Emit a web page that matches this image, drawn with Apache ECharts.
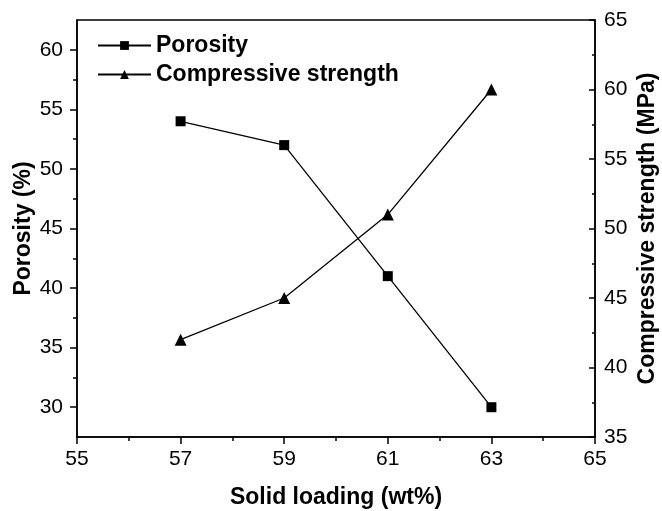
<!DOCTYPE html>
<html>
<head>
<meta charset="utf-8">
<script src="https://cdn.jsdelivr.net/npm/echarts@6/dist/echarts.min.js"></script>
<style>
  html, body { margin: 0; padding: 0; background: #fff; }
  #chart { width: 662px; height: 511px; }
</style>
</head>
<body>
<div id="chart"></div>
<script>
let solidLoading = [57, 59, 61, 63]
let porosity = [54, 52, 41, 30]
let strength = [42, 45, 51, 60]

let leftMajor = [30, 35, 40, 45, 50, 55, 60]
let leftMinor = [32.5, 37.5, 42.5, 47.5, 52.5, 57.5]

let font = 'Arial, "Liberation Sans", sans-serif'
let nameStyle = { fontFamily: font, fontWeight: 'bold', fontSize: 23, color: '#000' }
let labelStyle = { fontFamily: font, fontSize: 21, color: '#000' }
let blackLine = { color: '#000', width: 1.5 }

let chart = echarts.init(document.getElementById('chart'))

let baseY = {
    type: 'value',
    min: 27.5,
    max: 62.5,
    splitLine: { show: false }
}

chart.setOption({
    animation: false,
    backgroundColor: '#fff',
    grid: {
        left: 77, right: 67, top: 20, bottom: 74,
        outerBoundsMode: 'none',
        containLabel: false,
        show: true, borderColor: '#000', borderWidth: 1.5
    },
    legend: {
        left: 92, top: 29,
        orient: 'vertical',
        itemWidth: 53, itemHeight: 11, itemGap: 6,
        textStyle: { fontFamily: font, fontWeight: 'bold', fontSize: 23, lineHeight: 23, color: '#000' },
        data: ['Porosity', 'Compressive strength']
    },
    xAxis: {
        type: 'value',
        min: 55, max: 65, interval: 2,
        name: 'Solid loading (wt%)',
        nameLocation: 'middle', nameGap: 49,
        nameMoveOverlap: false,
        nameTextStyle: nameStyle,
        axisLine: { lineStyle: blackLine },
        axisTick: { length: 7, lineStyle: blackLine },
        minorTick: { show: true, splitNumber: 2, length: 4, lineStyle: blackLine },
        axisLabel: Object.assign({ margin: 12 }, labelStyle),
        splitLine: { show: false }
    },
    yAxis: [
        Object.assign({}, baseY, {
            position: 'left',
            name: 'Porosity (%)',
            nameLocation: 'middle', nameGap: 42,
            nameMoveOverlap: false,
            nameTextStyle: nameStyle,
            axisLine: { show: true, lineStyle: blackLine },
            axisTick: { customValues: leftMinor, length: 4, lineStyle: blackLine },
            axisLabel: Object.assign({ customValues: leftMajor, margin: 14 }, labelStyle)
        }),
        {
            type: 'value',
            position: 'right',
            min: 35, max: 65, interval: 5,
            name: 'Compressive strength (MPa)',
            nameLocation: 'middle', nameGap: 41,
            nameMoveOverlap: false,
            nameRotate: 90,
            nameTextStyle: nameStyle,
            axisLine: { show: true, lineStyle: blackLine },
            axisTick: { inside: true, length: 6, lineStyle: blackLine },
            minorTick: { show: true, splitNumber: 2, length: 3, lineStyle: blackLine },
            axisLabel: Object.assign({ margin: 9 }, labelStyle),
            splitLine: { show: false }
        },
        // overlay on the left axis, only for the longer major ticks
        Object.assign({}, baseY, {
            position: 'left',
            axisLine: { show: false },
            axisTick: { customValues: leftMajor, length: 7, lineStyle: blackLine },
            axisLabel: { show: false }
        })
    ],
    series: [
        {
            name: 'Porosity',
            type: 'line',
            yAxisIndex: 0,
            data: solidLoading.map((x, i) => [x, porosity[i]]),
            symbol: 'rect', symbolSize: 10,
            itemStyle: { color: '#000' },
            lineStyle: { color: '#000', width: 1.3 }
        },
        {
            name: 'Compressive strength',
            type: 'line',
            yAxisIndex: 1,
            data: solidLoading.map((x, i) => [x, strength[i]]),
            symbol: 'triangle', symbolSize: 12,
            itemStyle: { color: '#000' },
            lineStyle: { color: '#000', width: 1.3 }
        }
    ]
})
</script>
</body>
</html>
